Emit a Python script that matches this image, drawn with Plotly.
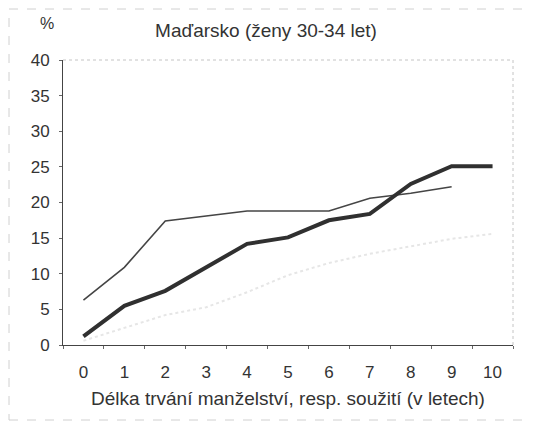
import plotly.graph_objects as go

years = [0, 1, 2, 3, 4, 5, 6, 7, 8, 9, 10]
thick_series = [1.2, 5.5, 7.6, 10.9, 14.2, 15.1, 17.5, 18.4, 22.6, 25.1, 25.1]
thin_series = [6.3, 10.9, 17.4, 18.1, 18.8, 18.8, 18.8, 20.6, 21.3, 22.2]
faint_series = [0.6, 2.4, 4.2, 5.3, 7.4, 9.8, 11.5, 12.8, 13.9, 14.9, 15.6]
y_ticks = [0, 5, 10, 15, 20, 25, 30, 35, 40]

fig = go.Figure()
fig.add_trace(go.Scatter(x=years, y=faint_series, mode="lines",
                         line=dict(color="#e6e6e6", width=2, dash="dot"), showlegend=False))
fig.add_trace(go.Scatter(x=years[:len(thin_series)], y=thin_series, mode="lines",
                         line=dict(color="#454545", width=1.6), showlegend=False))
fig.add_trace(go.Scatter(x=years, y=thick_series, mode="lines",
                         line=dict(color="#303030", width=4), showlegend=False))

# page body has an 8px margin, so the figure is offset by 8px
W, H = 525, 415
L, R, T, B = 55, 20, 52, 78
pw = W - L - R
ph = H - T - B

def px(x):
    return (x - L) / pw

def py(y):
    return (H - B - y) / ph

shapes = [
    dict(type="line", xref="paper", yref="paper", x0=0, x1=1, y0=1, y1=1,
         line=dict(color="#c4c4c4", width=1, dash="dot")),
    dict(type="line", xref="paper", yref="paper", x0=1, x1=1, y0=0, y1=1,
         line=dict(color="#c4c4c4", width=1, dash="dot")),
    dict(type="rect", xref="paper", yref="paper", x0=px(1), x1=px(520), y0=py(412), y1=py(1),
         line=dict(color="#d0d0d0", width=1, dash="dash")),
]

fig.update_layout(
    width=W, height=H,
    margin=dict(l=L, r=R, t=T, b=B),
    paper_bgcolor="white", plot_bgcolor="white",
    font=dict(family="Liberation Sans, Arial, sans-serif", size=17, color="#333333"),
    title=dict(text="Maďarsko (ženy 30-34 let)", xref="container", x=258 / W, xanchor="center",
               yref="container", y=1 - 22 / H, yanchor="middle",
               font=dict(size=19, color="#333333")),
    shapes=shapes,
    annotations=[dict(text="%", xref="paper", yref="paper", x=px(39), y=py(15),
                      xanchor="center", yanchor="middle", showarrow=False,
                      font=dict(size=16, color="#333333"))],
)
fig.update_xaxes(range=[-0.5, 10.5], tickvals=years, ticktext=[str(v) for v in years],
                 showgrid=False, zeroline=False, showline=True, linecolor="#444444", linewidth=1,
                 ticks="", ticklabelstandoff=12,
                 minor=dict(tickvals=[v + 0.5 for v in [-1] + years], ticks="outside",
                            ticklen=3, tickcolor="#666666", showgrid=False),
                 title=dict(text="Délka trvání manželství, resp. soužití (v letech)",
                            font=dict(size=19, color="#333333"), standoff=10))
fig.update_yaxes(range=[0, 40], tickvals=y_ticks, showgrid=False, zeroline=False,
                 showline=True, linecolor="#444444", linewidth=1,
                 ticks="outside", ticklen=3, tickcolor="#666666", ticklabelstandoff=6)

fig.write_html("out.html")
